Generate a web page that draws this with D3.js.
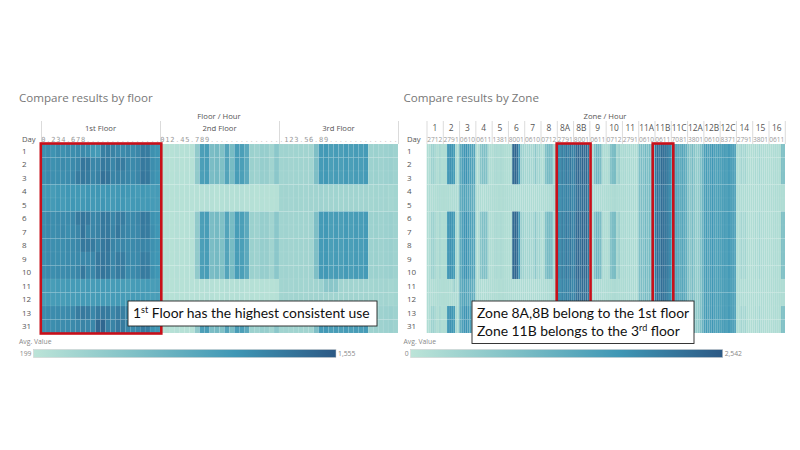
<!DOCTYPE html>
<html>
<head>
<meta charset="utf-8">
<script src="https://cdn.jsdelivr.net/npm/d3@7"></script>
<style>
  html, body { margin: 0; background: #fff; }
  svg { display: block; }
  .title { font: 11.6px "Open Sans", sans-serif; fill: #777; }
  .head { font: 7.7px "Open Sans", sans-serif; fill: #555; }
  .zoneHead { font: 8.4px "Open Sans", sans-serif; fill: #555; }
  .dayAxis text { font: 8px "Open Sans", sans-serif; fill: #555; }
  .hourAxis text { font: 7px "DejaVu Sans Mono", monospace; fill: #999; }
  .zoneHourAxis text { font: 6.6px "Open Sans", sans-serif; fill: #999; }
  .legendText { font: 6.8px "Open Sans", sans-serif; fill: #888; }
  .note { font: 13.9px Lato, sans-serif; fill: #111; }
</style>
</head>
<body>
<div id="chart"></div>
<script>
const days = ["1","2","3","4","5","6","7","8","9","10","11","12","13","31"];
const quietDays = ["4","5","11","12"];

const floors = ["1st Floor","2nd Floor","3rd Floor"];
const floorHours = d3.range(24);
const floor1HourLabels = ["0",".","2","3","4",".","6","7","8",".",".",".",".",".",".",".",".",".",".",".",".",".",".","."];
const floor2HourLabels = ["0","1","2",".","4","5",".","7","8","9",".",".",".",".",".",".",".",".",".",".",".",".",".","."];
const floor3HourLabels = [".","1","2","3",".","5","6",".","8","9",".",".",".",".",".",".",".",".",".",".",".",".",".","."];

// 1st floor, one line per day, hours 0-23
const floor1Values = {
  "1":  [1140,1170,1130,1180,1150,1180,1170,1190,1200,1170,1080,1060,1270,1290,1250,1210,1190,1220,1180,1220,1310,1300,1150,1120],
  "2":  [1160,1180,1150,1170,1190,1170,1200,1230,1340,1330,1220,1230,1320,1310,1230,1310,1300,1220,1200,1220,1320,1310,1170,1130],
  "3":  [1150,1190,1160,1170,1170,1180,1210,1300,1330,1310,1230,1260,1380,1360,1240,1260,1250,1230,1190,1230,1340,1330,1160,1120],
  "4":  [1060,1080,1050,1090,1070,1100,1080,1090,1070,1100,1090,1110,1080,1100,1070,1090,1110,1090,1080,1060,1090,1070,1050,1060],
  "5":  [1080,1090,1070,1100,1060,1090,1100,1080,1090,1110,1080,1090,1110,1080,1070,1100,1090,1060,1080,1090,1070,1080,1060,1050],
  "6":  [1160,1200,1170,1190,1180,1190,1210,1310,1340,1320,1220,1240,1330,1320,1230,1300,1290,1210,1200,1230,1320,1310,1140,1110],
  "7":  [1170,1190,1170,1180,1200,1170,1200,1230,1350,1240,1230,1250,1320,1320,1240,1330,1250,1220,1200,1210,1310,1300,1160,1100],
  "8":  [1160,1180,1160,1170,1170,1190,1200,1220,1330,1320,1310,1240,1330,1350,1240,1220,1230,1200,1200,1210,1240,1230,1150,1110],
  "9":  [1150,1180,1170,1170,1170,1180,1190,1200,1220,1210,1220,1320,1340,1330,1230,1300,1290,1210,1190,1200,1290,1280,1130,1100],
  "10": [1170,1190,1170,1190,1180,1200,1200,1230,1330,1230,1220,1320,1360,1330,1230,1300,1300,1200,1190,1220,1310,1300,1150,1100],
  "11": [1050,1060,1040,1070,1050,1070,1060,1060,1050,1070,1050,1060,1070,1060,1050,1060,1040,1020,1050,1060,1050,1060,1040,1050],
  "12": [1040,1060,1050,1060,1040,1060,1050,1060,1070,1060,1050,1070,1060,1050,1060,1070,1060,1040,1060,1050,1060,1040,1030,1040],
  "13": [1170,1190,1180,1190,1180,1200,1210,1300,1320,1300,1220,1310,1320,1310,1230,1290,1280,1210,1190,1210,1250,1240,1140,1100],
  "31": [1160,1180,1170,1190,1180,1190,1200,1220,1240,1230,1220,1440,1450,1270,1240,1320,1310,1220,1200,1220,1310,1300,1140,1100]
};
const floor2Busy  = [240,250,240,260,240,250,240,520,1010,1040,680,720,640,960,700,1040,1020,900,440,420,480,470,400,560];
const floor2Quiet = [240,250,240,255,240,250,235,250,245,260,250,240,255,270,250,265,260,245,250,240,250,245,240,250];
const floor3Busy  = [400,410,395,405,400,395,400,660,1060,1080,1020,1050,1010,1060,1020,1050,1030,1060,430,440,420,435,450,420];
const floor3Quiet = [390,395,385,400,390,385,395,400,410,400,395,405,390,400,395,400,385,395,380,390,385,395,380,390];
const floor3Day11 = [390,395,385,400,390,385,395,400,430,560,570,560,400,395,400,385,395,385,380,390,385,395,380,390];

const zones = ["1","2","3","4","5","6","7","8","8A","8B","9","10","11","11A","11B","11C","12A","12B","12C","14","15","16"];
const zoneHourLabels = ["2712","2791","0610","0611","1381","8001","0610","0712","2791","8001","0611","0712","2791","0610","0611","7081","3801","0610","8371","2791","3801","0611"];
const zoneSlots = d3.range(8);

// eight readings across each zone cell, zones in the order above
const zoneBusy = [
  [170,170,420,430,250,170,300,170],
  [190,190,1650,1750,1700,1600,280,220],
  [1250,1500,1700,1750,1600,1500,1450,1400],
  [170,170,700,850,850,800,220,170],
  [170,230,230,190,230,190,170,170],
  [170,170,2300,2350,2250,1700,450,400],
  [320,300,380,300,340,650,300,400],
  [170,190,800,950,950,850,230,190],
  [2000,1850,2050,1900,2100,1950,2150,1950],
  [2000,2250,2350,2200,2400,2250,2350,2100],
  [170,190,800,1050,1000,900,220,190],
  [170,210,750,900,950,280,450,200],
  [230,250,190,260,200,240,190,210],
  [850,900,800,1000,850,950,800,900],
  [2100,2250,2050,2300,2200,2150,2050,1900],
  [1250,1500,1350,1300,1250,1400,1300,1200],
  [850,700,950,750,550,600,800,1100],
  [1500,1600,1450,1550,1700,1500,1450,1550],
  [1450,1550,1600,1500,1650,1550,1500,1400],
  [170,170,350,250,350,200,170,170],
  [170,250,170,300,200,190,170,170],
  [170,170,180,190,170,170,850,800]
];
const zoneQuiet = [
  [170,180,170,190,170,180,190,170],
  [180,170,190,170,180,190,200,180],
  [1200,1350,1450,1400,1350,1300,1250,1150],
  [170,180,190,170,180,190,180,170],
  [180,190,170,180,170,180,170,180],
  [170,180,170,190,180,200,190,180],
  [190,180,190,200,180,190,200,190],
  [190,200,190,210,200,190,230,190],
  [1900,1800,1950,1850,2000,1900,2050,1900],
  [1950,2150,2250,2150,2300,2200,2250,2050],
  [180,190,200,190,210,190,200,180],
  [190,200,190,210,230,200,210,190],
  [220,240,190,250,200,230,190,200],
  [850,880,800,960,850,920,800,880],
  [2050,2200,2000,2250,2150,2100,2000,1850],
  [1250,1450,1350,1300,1250,1380,1300,1200],
  [820,700,920,750,550,600,780,1080],
  [1500,1580,1450,1530,1680,1500,1450,1530],
  [1450,1530,1580,1500,1620,1530,1480,1400],
  [170,180,190,180,190,180,170,170],
  [170,190,170,200,190,180,170,170],
  [170,180,170,190,170,180,190,180]
];
const zone2Day11 = [180,170,190,170,180,450,200,180];

const floorDomain = [199, 1555];
const zoneDomain = [0, 2542];
const rampColors = ["#bce4d8","#7fc0c6","#3f97b5","#2c5985"];

const floorColor = d3.scaleLinear()
  .domain(d3.range(4).map(i => floorDomain[0] + (floorDomain[1] - floorDomain[0]) * i / 3))
  .range(rampColors);
const zoneColor = d3.scaleLinear()
  .domain(d3.range(4).map(i => zoneDomain[0] + (zoneDomain[1] - zoneDomain[0]) * i / 3))
  .range(rampColors);

const svg = d3.select("#chart").append("svg").attr("width", 800).attr("height", 450);

const gridTop = 144, gridBottom = 333, headTop = 121;
const y = d3.scaleBand().domain(days).range([gridTop, gridBottom]);

function dayAxis(x0) {
  const g = svg.append("g").attr("class", "dayAxis").attr("transform", `translate(${x0},0.6)`)
    .call(d3.axisLeft(y).tickSize(0));
  g.select(".domain").remove();
  g.selectAll("text").attr("text-anchor", "start").attr("x", 0);
}

function vline(x, y1, y2, color) {
  svg.append("line").attr("x1", x).attr("x2", x).attr("y1", y1).attr("y2", y2)
    .attr("stroke", color).attr("stroke-width", 0.7);
}

// ---------- by floor
svg.append("text").attr("class", "title").attr("x", 19).attr("y", 102).text("Compare results by floor");
svg.append("text").attr("class", "head").attr("x", 219).attr("y", 119).attr("text-anchor", "middle").text("Floor / Hour");
svg.append("text").attr("class", "head").attr("x", 22).attr("y", 142).text("Day");
dayAxis(22);

const xFloor = d3.scaleBand().domain(floors).range([41, 398]);
const xHour = d3.scaleBand().domain(floorHours).range([0, xFloor.bandwidth()]);

function floorRow(floor, day) {
  const quiet = quietDays.includes(day);
  if (floor === floors[0]) return floor1Values[day];
  if (floor === floors[1]) return quiet ? floor2Quiet : floor2Busy;
  if (day === "11") return floor3Day11;
  return quiet ? floor3Quiet : floor3Busy;
}

const floorCells = [];
floors.forEach(f => days.forEach(d => floorRow(f, d).forEach((v, h) => floorCells.push({f, d, h, v}))));

svg.append("g").selectAll("rect").data(floorCells).join("rect")
  .attr("x", d => xFloor(d.f) + xHour(d.h))
  .attr("y", d => y(d.d))
  .attr("width", xHour.bandwidth())
  .attr("height", y.bandwidth())
  .attr("fill", d => floorColor(d.v))
  .attr("stroke", "#fff").attr("stroke-opacity", 0.08).attr("stroke-width", 0.6);

[floor1HourLabels, floor2HourLabels, floor3HourLabels].forEach((labels, i) => {
  const g = svg.append("g").attr("class", "hourAxis")
    .attr("transform", `translate(${xFloor(floors[i])},144.5)`)
    .call(d3.axisTop(xHour).tickSize(0).tickFormat(h => labels[h]));
  g.select(".domain").remove();
  g.selectAll("text").filter(h => labels[h] === ".").style("fill", "#ccc");
});

floors.forEach(f => {
  svg.append("text").attr("class", "head").attr("x", xFloor(f) + xFloor.bandwidth() / 2)
    .attr("y", 131).attr("text-anchor", "middle").text(f);
  vline(xFloor(f) + 0.5, headTop, gridTop, "#ccc");
});
vline(398.5, headTop, gridTop, "#ccc");

// ---------- by zone
svg.append("text").attr("class", "title").attr("x", 403.5).attr("y", 102).text("Compare results by Zone");
svg.append("text").attr("class", "head").attr("x", 605).attr("y", 119).attr("text-anchor", "middle").text("Zone / Hour");
svg.append("text").attr("class", "head").attr("x", 407).attr("y", 142).text("Day");
dayAxis(407);

const xZone = d3.scaleBand().domain(zones).range([426.7, 785]);
const xSlot = d3.scaleBand().domain(zoneSlots).range([0, xZone.bandwidth()]);

const zoneCells = [];
zones.forEach((z, i) => days.forEach(d => {
  let row = quietDays.includes(d) ? zoneQuiet[i] : zoneBusy[i];
  if (z === "2" && d === "11") row = zone2Day11;
  row.forEach((v, s) => zoneCells.push({z, d, s, v}));
}));

svg.append("g").selectAll("rect").data(zoneCells).join("rect")
  .attr("x", d => xZone(d.z) + xSlot(d.s))
  .attr("y", d => y(d.d))
  .attr("width", xSlot.bandwidth())
  .attr("height", y.bandwidth())
  .attr("fill", d => zoneColor(d.v))
  .attr("stroke", "#fff").attr("stroke-opacity", 0.07).attr("stroke-width", 0.5);

zones.forEach((z, i) => {
  const cx = xZone(z) + xZone.bandwidth() / 2;
  svg.append("text").attr("class", "zoneHead").attr("x", cx).attr("y", 131).attr("text-anchor", "middle").text(z);
  vline(xZone(z) + 0.3, headTop, gridTop, "#ccc");
});
vline(785.3, headTop, gridTop, "#ccc");

const zoneTickAxis = svg.append("g").attr("class", "zoneHourAxis").attr("transform", "translate(0,144.5)")
  .call(d3.axisTop(xZone).tickSize(0).tickFormat((z, i) => zoneHourLabels[i]));
zoneTickAxis.select(".domain").remove();

// ---------- legends
function legend(id, x0, x1, color, domain, minText, maxText, labelX) {
  const grad = svg.append("defs").append("linearGradient").attr("id", id);
  color.domain().forEach((v, i) => {
    grad.append("stop").attr("offset", (v - domain[0]) / (domain[1] - domain[0])).attr("stop-color", color(v));
  });
  svg.append("rect").attr("x", x0).attr("y", 349.5).attr("width", x1 - x0).attr("height", 8)
    .attr("fill", `url(#${id})`).attr("stroke", "#ccc").attr("stroke-width", 0.5);
  svg.append("text").attr("class", "legendText").attr("x", labelX).attr("y", 344).text("Avg. Value");
  svg.append("text").attr("class", "legendText").attr("x", x0 - 2).attr("y", 356).attr("text-anchor", "end").text(minText);
  svg.append("text").attr("class", "legendText").attr("x", x1 + 2).attr("y", 356).text(maxText);
}
legend("floorRamp", 33.5, 336, floorColor, floorDomain, "199", "1,555", 19);
legend("zoneRamp", 410.7, 722.7, zoneColor, zoneDomain, "0", "2,542", 403.5);

// ---------- red boxes and notes
const red = "#c8101a";
function redBox(x, w) {
  svg.append("rect").attr("x", x).attr("y", 143.5).attr("width", w).attr("height", 190)
    .attr("fill", "none").attr("stroke", red).attr("stroke-width", 2.6);
}
redBox(40.8, 120.5);
redBox(xZone("8A") - 0.3, xZone.bandwidth() * 2 + 1.3);
redBox(xZone("11B") - 2, xZone.bandwidth() + 4.3);

function noteBox(x, yy, w, h) {
  svg.append("rect").attr("x", x).attr("y", yy).attr("width", w).attr("height", h)
    .attr("fill", "#fff").attr("stroke", "#222").attr("stroke-width", 0.9);
}
function noteLine(x, yy, parts) {
  const t = svg.append("text").attr("class", "note").attr("x", x).attr("y", yy);
  parts.forEach(p => {
    const s = t.append("tspan").text(p[0]);
    if (p[1]) s.attr("baseline-shift", "super").attr("font-size", 9);
  });
}
noteBox(128, 301, 249, 25);
noteLine(133, 318, [["1"], ["st", true], [" Floor has the highest consistent use"]]);
noteBox(472, 301, 222, 42.5);
noteLine(477, 318, [["Zone 8A,8B belong to the 1st floor"]]);
noteLine(477, 335.5, [["Zone 11B belongs to the 3"], ["rd", true], [" floor"]]);
</script>
</body>
</html>
